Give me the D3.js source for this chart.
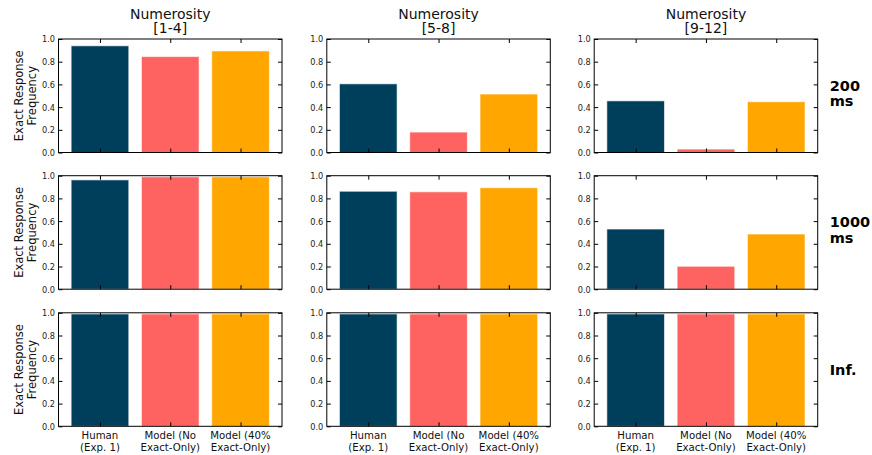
<!DOCTYPE html>
<html>
<head>
<meta charset="utf-8">
<script src="https://cdn.jsdelivr.net/npm/d3@7"></script>
<style>
  body { margin: 0; background: #fff; }
  svg text { font-family: "DejaVu Sans", sans-serif; }
</style>
</head>
<body>
<div id="chart"></div>
<script>
// --- data ---
var categories = ['Human|(Exp. 1)', 'Model (No|Exact-Only)', 'Model (40%|Exact-Only)'];
var ranges = ['[1-4]', '[5-8]', '[9-12]'];
var timeLabels = ['200|ms', '1000|ms', 'Inf.'];
var colors = ['#003f5c', '#ff6361', '#ffa600'];
var yTicks = [0, 0.2, 0.4, 0.6, 0.8, 1.0];

// values[row][col] -> [human, model no exact, model 40%]
var row200 = [[0.94, 0.845, 0.895], [0.605, 0.18, 0.515], [0.455, 0.03, 0.447]];
var row1000 = [[0.963, 0.99, 0.99], [0.863, 0.858, 0.894], [0.53, 0.202, 0.486]];
var rowInf = [[0.99, 0.99, 0.99], [0.99, 0.99, 0.99], [0.99, 0.99, 0.99]];
var values = [row200, row1000, rowInf];

var width = 872, height = 455;
var panel = { w: 223.5, h: 113.5 };
var colX = [58.5, 326.8, 594.2];
var rowY = [39, 175.7, 312.8];

var svg = d3.select('#chart').append('svg')
    .attr('width', width)
    .attr('height', height);

var x = d3.scaleBand()
    .domain(d3.range(categories.length))
    .range([0, panel.w])
    .paddingInner(0.18)
    .paddingOuter(0.18);

var y = d3.scaleLinear().domain([0, 1]).range([panel.h, 0]);

values.forEach(function(rowVals, r) {
    rowVals.forEach(function(vals, c) {
        var g = svg.append('g')
            .attr('transform', 'translate(' + colX[c] + ',' + rowY[r] + ')');

        g.selectAll('rect.bar')
            .data(vals)
            .enter().append('rect')
            .attr('class', 'bar')
            .attr('x', function(d, i) { return x(i); })
            .attr('width', x.bandwidth())
            .attr('y', function(d) { return y(d); })
            .attr('height', function(d) { return panel.h - y(d); })
            .attr('fill', function(d, i) { return colors[i]; })
            .attr('stroke', '#fff')
            .attr('stroke-opacity', 0.6)
            .attr('stroke-width', 1);

        // axes, ticks inward on all sides
        var left = g.append('g')
            .call(d3.axisLeft(y).tickValues(yTicks).tickSizeInner(-4).tickSizeOuter(0).tickPadding(3.5)
                .tickFormat(d3.format('.1f')));
        var right = g.append('g').attr('transform', 'translate(' + panel.w + ',0)')
            .call(d3.axisRight(y).tickValues(yTicks).tickSizeInner(-4).tickSizeOuter(0).tickFormat(''));
        var centers = categories.map(function(d, i) { return x(i) + x.bandwidth() / 2; });
        var bottom = g.append('g').attr('transform', 'translate(0,' + panel.h + ')')
            .call(d3.axisBottom(d3.scaleIdentity()).tickValues(centers).tickSizeInner(-4).tickSizeOuter(0).tickFormat(''));
        var top = g.append('g')
            .call(d3.axisTop(d3.scaleIdentity()).tickValues(centers).tickSizeInner(-4).tickSizeOuter(0).tickFormat(''));

        [left, right, bottom, top].forEach(function(a) {
            a.select('.domain').remove();
            a.selectAll('line').attr('stroke', '#000');
        });
        left.selectAll('text').attr('font-size', 8.2).attr('fill', '#222').attr('dy', '0.36em');

        g.append('rect')
            .attr('width', panel.w)
            .attr('height', panel.h)
            .attr('fill', 'none')
            .attr('stroke', '#000')
            .attr('stroke-width', 1);

        // column titles
        if (r === 0) {
            ['Numerosity', ranges[c]].forEach(function(s, k) {
                g.append('text')
                    .attr('x', panel.w / 2)
                    .attr('y', -20.5 + k * 14)
                    .attr('text-anchor', 'middle')
                    .attr('font-size', 14)
                    .attr('fill', '#111')
                    .text(s);
            });
        }

        // y label on first column
        if (c === 0) {
            ['Exact Response', 'Frequency'].forEach(function(s, k) {
                g.append('text')
                    .attr('transform', 'translate(' + (-36 + k * 13) + ',' + panel.h / 2 + ') rotate(-90)')
                    .attr('text-anchor', 'middle')
                    .attr('font-size', 11.5)
                    .attr('fill', '#111')
                    .text(s);
            });
        }

        // time labels on last column
        if (c === ranges.length - 1) {
            var parts = timeLabels[r].split('|');
            var y0 = parts.length > 1 ? panel.h / 2 - 5 : panel.h / 2 + 5.5;
            parts.forEach(function(p, k) {
                g.append('text')
                    .attr('x', panel.w + 12)
                    .attr('y', y0 + k * 15.5)
                    .attr('font-size', 14.5)
                    .attr('font-weight', 'bold')
                    .attr('fill', '#000')
                    .text(p);
            });
        }

        // category labels on last row
        if (r === values.length - 1) {
            categories.forEach(function(cat, i) {
                cat.split('|').forEach(function(l, k) {
                    g.append('text')
                        .attr('x', centers[i])
                        .attr('y', panel.h + 12.7 + k * 11.7)
                        .attr('text-anchor', 'middle')
                        .attr('font-size', 10.2)
                        .attr('fill', '#111')
                        .text(l);
                });
            });
        }
    });
});
</script>
</body>
</html>
